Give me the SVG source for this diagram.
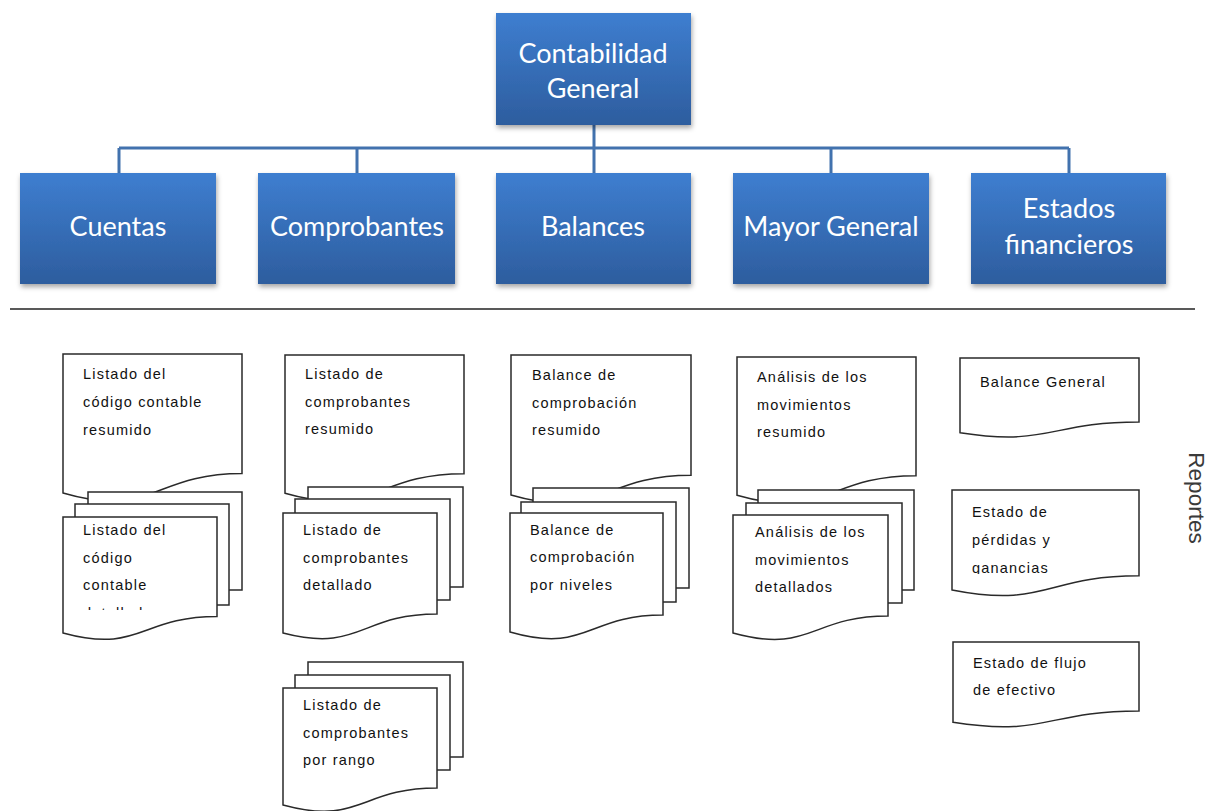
<svg xmlns="http://www.w3.org/2000/svg" width="1218" height="811" viewBox="0 0 1218 811">
<style>
.box{fill:url(#bg);filter:url(#sh)}
.bt{font-family:Lato,"Liberation Sans",sans-serif;font-size:27px;fill:#fff;text-anchor:middle}
.conn{stroke:#4272ae;stroke-width:3;fill:none}
.doc{fill:#fff;stroke:#2a2a2a;stroke-width:1.5}
.dt{font-family:"Liberation Sans",Arial,sans-serif;font-size:14.5px;letter-spacing:1.2px;fill:#111}
.rep{font-family:"Liberation Sans",Arial,sans-serif;font-size:22.5px;fill:#3a3a3a;text-anchor:middle}
</style>
<defs>
<linearGradient id="bg" x1="0" y1="0" x2="0" y2="1">
<stop offset="0" stop-color="#3e7ed0"/>
<stop offset="1" stop-color="#2d5d9e"/>
</linearGradient>
<filter id="sh" x="-10%" y="-10%" width="125%" height="130%">
<feDropShadow dx="1" dy="3" stdDeviation="2.5" flood-color="#000" flood-opacity="0.35"/>
</filter>
<clipPath id="c1"><rect x="60" y="500" width="170" height="110"/></clipPath>
<clipPath id="c5"><rect x="955" y="495" width="180" height="79"/></clipPath>
</defs>
<rect width="1218" height="811" fill="#fff"/>

<g id="connectors">
<path class="conn" d="M594 125 V173 M119 148 H1069 M119 148 V173 M357 148 V173 M831 148 V173 M1069 148 V173"/>
</g>

<g id="contabilidad-general">
<rect class="box" x="496" y="13" width="195" height="112"/>
<text class="bt" x="593" y="63">Contabilidad</text>
<text class="bt" x="593" y="98">General</text>
</g>
<g id="cuentas">
<rect class="box" x="20" y="173" width="196" height="111"/>
<text class="bt" x="118" y="236">Cuentas</text>
</g>
<g id="comprobantes">
<rect class="box" x="258" y="173" width="197" height="111"/>
<text class="bt" x="357" y="236">Comprobantes</text>
</g>
<g id="balances">
<rect class="box" x="496" y="173" width="195" height="111"/>
<text class="bt" x="593" y="236">Balances</text>
</g>
<g id="mayor-general">
<rect class="box" x="733" y="173" width="196" height="111"/>
<text class="bt" x="831" y="236">Mayor General</text>
</g>
<g id="estados-financieros">
<rect class="box" x="971" y="173" width="195" height="111"/>
<text class="bt" x="1069" y="218">Estados</text>
<text class="bt" x="1069" y="254">financieros</text>
</g>

<line x1="10" y1="309" x2="1195" y2="309" stroke="#222" stroke-width="1.5"/>
<g id="reportes"><text class="rep" transform="translate(1189 498) rotate(90)">Reportes</text></g>

<!-- Column 1 -->
<g id="doc-cuentas-resumido">
<path class="doc" d="M63 354 H242 V473.5 C152.5 473.5 152.5 519 63 493 Z"/>
<text class="dt" x="83" y="379">Listado del</text>
<text class="dt" x="83" y="407">código contable</text>
<text class="dt" x="83" y="435">resumido</text>
</g>
<g id="doc-cuentas-detallado">
<rect class="doc" x="88" y="492" width="154" height="98"/>
<rect class="doc" x="75" y="504" width="154" height="101"/>
<path class="doc" d="M63 517 H217 V616.5 C140 616.5 140 654 63 633 Z"/>
<g clip-path="url(#c1)">
<text class="dt" x="83" y="535">Listado del</text>
<text class="dt" x="83" y="563">código</text>
<text class="dt" x="83" y="590">contable</text>
<text class="dt" x="83" y="618">detallado</text>
</g>
</g>

<!-- Column 2 -->
<g id="doc-comprobantes-resumido">
<path class="doc" d="M285 355 H464 V473.7 C374.5 473.7 374.5 518.8 285 493.2 Z"/>
<text class="dt" x="305" y="379">Listado de</text>
<text class="dt" x="305" y="407">comprobantes</text>
<text class="dt" x="305" y="434">resumido</text>
</g>
<g id="doc-comprobantes-detallado">
<rect class="doc" x="308" y="487" width="155" height="100"/>
<rect class="doc" x="295" y="499" width="155" height="101"/>
<path class="doc" d="M283 513 H437 V614 C360 614 360 653 283 633 Z"/>
<text class="dt" x="303" y="535">Listado de</text>
<text class="dt" x="303" y="563">comprobantes</text>
<text class="dt" x="303" y="590">detallado</text>
</g>
<g id="doc-comprobantes-rango">
<rect class="doc" x="308" y="662" width="155" height="95"/>
<rect class="doc" x="295" y="675" width="155" height="95"/>
<path class="doc" d="M283 688 H437 V788 C360 788 360 826 283 805 Z"/>
<text class="dt" x="303" y="710">Listado de</text>
<text class="dt" x="303" y="738">comprobantes</text>
<text class="dt" x="303" y="765">por rango</text>
</g>

<!-- Column 3 -->
<g id="doc-balance-resumido">
<path class="doc" d="M511 355 H691 V475.3 C601 475.3 601 521 511 495 Z"/>
<text class="dt" x="532" y="380">Balance de</text>
<text class="dt" x="532" y="408">comprobación</text>
<text class="dt" x="532" y="435">resumido</text>
</g>
<g id="doc-balance-niveles">
<rect class="doc" x="533" y="488" width="156" height="100"/>
<rect class="doc" x="521" y="502" width="155" height="100"/>
<path class="doc" d="M510 513 H663 V615 C586.5 615 586.5 654 510 632 Z"/>
<text class="dt" x="530" y="535">Balance de</text>
<text class="dt" x="530" y="562">comprobación</text>
<text class="dt" x="530" y="590">por niveles</text>
</g>

<!-- Column 4 -->
<g id="doc-mayor-resumido">
<path class="doc" d="M737 357 H916 V475.7 C826.5 475.7 826.5 520.8 737 495.2 Z"/>
<text class="dt" x="757" y="382">Análisis de los</text>
<text class="dt" x="757" y="410">movimientos</text>
<text class="dt" x="757" y="437">resumido</text>
</g>
<g id="doc-mayor-detallados">
<rect class="doc" x="758" y="490" width="156" height="100"/>
<rect class="doc" x="746" y="503" width="156" height="100"/>
<path class="doc" d="M733 515 H888 V616 C810.5 616 810.5 654.5 733 633 Z"/>
<text class="dt" x="755" y="537">Análisis de los</text>
<text class="dt" x="755" y="565">movimientos</text>
<text class="dt" x="755" y="592">detallados</text>
</g>

<!-- Column 5 -->
<g id="doc-balance-general">
<path class="doc" d="M960 358 H1139 V422 C1049.5 422 1049.5 446.5 960 432.7 Z"/>
<text class="dt" x="980" y="387">Balance General</text>
</g>
<g id="doc-perdidas-ganancias">
<path class="doc" d="M952 490 H1139 V575.8 C1045.5 575.8 1045.5 608.4 952 590 Z"/>
<text class="dt" x="972" y="517">Estado de</text>
<text class="dt" x="972" y="545">pérdidas y</text>
<text class="dt" x="972" y="573" clip-path="url(#c5)">ganancias</text>
</g>
<g id="doc-flujo-efectivo">
<path class="doc" d="M953 642 H1139 V711 C1046 711 1046 737 953 722.3 Z"/>
<text class="dt" x="973" y="668">Estado de flujo</text>
<text class="dt" x="973" y="695">de efectivo</text>
</g>
</svg>
